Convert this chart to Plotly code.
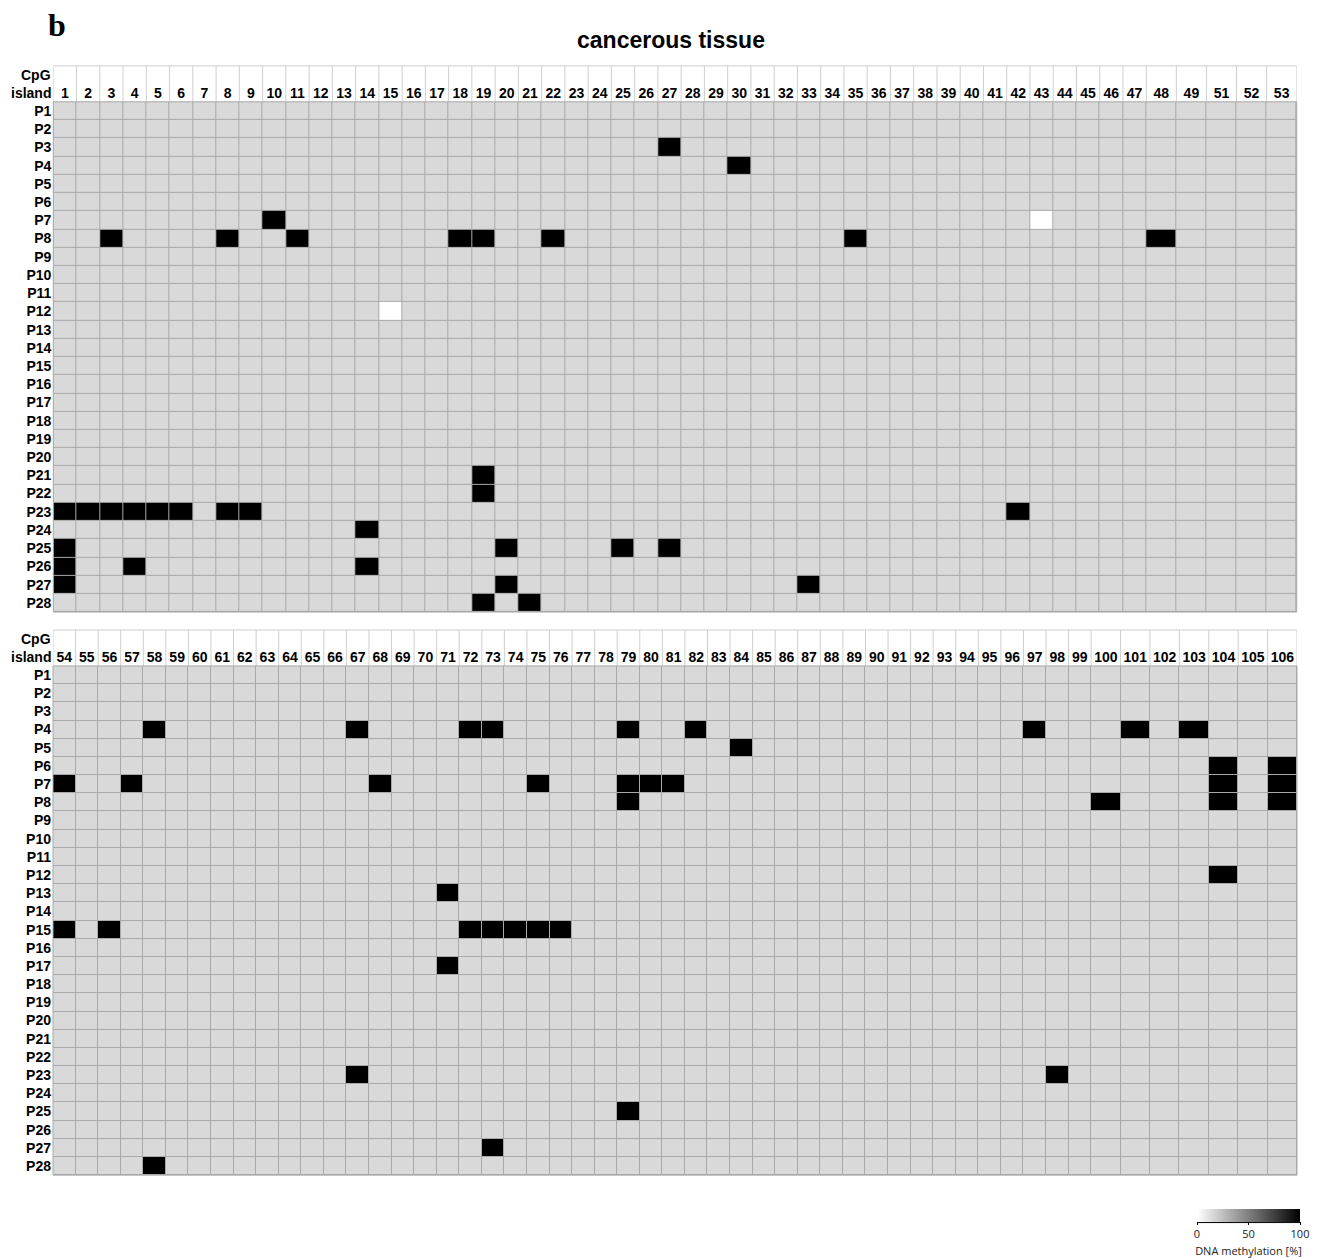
import plotly.graph_objects as go

# ---------------- data ----------------
rows = [f"P{i}" for i in range(1, 29)]
cpg_top = list(range(1, 50)) + [51, 52, 53]
cpg_bottom = list(range(54, 107))

background_level = 15          # light-grey cells
full_methylation = 100         # black cells
no_methylation = 0             # white cells

methylated_top = {
    "P3": [27], "P4": [30], "P7": [10],
    "P8": [3, 8, 11, 18, 19, 22, 35, 48],
    "P21": [19], "P22": [19],
    "P23": [1, 2, 3, 4, 5, 6, 8, 9, 42],
    "P24": [14], "P25": [1, 20, 25, 27], "P26": [1, 4, 14],
    "P27": [1, 20, 33], "P28": [19, 21],
}
unmethylated_top = {"P7": [43], "P12": [15]}

methylated_bottom = {
    "P4": [58, 67, 72, 73, 79, 82, 97, 101, 103],
    "P5": [84], "P6": [104, 106],
    "P7": [54, 57, 68, 75, 79, 80, 81, 104, 106],
    "P8": [79, 100, 104, 106], "P12": [104], "P13": [71],
    "P15": [54, 56, 72, 73, 74, 75, 76], "P17": [71],
    "P23": [67, 98], "P25": [79], "P27": [73], "P28": [58],
}
unmethylated_bottom = {}


def build(cols, meth, unmeth):
    z = [[background_level] * len(cols) for _ in rows]
    for r, cs in meth.items():
        for c in cs:
            z[rows.index(r)][cols.index(c)] = full_methylation
    for r, cs in unmeth.items():
        for c in cs:
            z[rows.index(r)][cols.index(c)] = no_methylation
    return z


z_top = build(cpg_top, methylated_top, unmethylated_top)
z_bottom = build(cpg_bottom, methylated_bottom, unmethylated_bottom)

# ---------------- layout / style ----------------
W, H = 1320, 1258


def fx(p):
    return p / W


def fy(p):
    return 1 - p / H


def edges_for(n, n_narrow, wide):
    e = [0.0]
    for i in range(n):
        e.append(e[-1] + (1.0 if i < n_narrow else wide))
    return e


edges_top = edges_for(len(cpg_top), 47, 1.294)
edges_bottom = edges_for(len(cpg_bottom), 46, 1.303)

panels = [
    dict(z=z_top, cols=cpg_top, edges=edges_top, x0=53.3, x1=1296.7,
         gtop=102, gbot=613, htop=66, xa="x", ya="y"),
    dict(z=z_bottom, cols=cpg_bottom, edges=edges_bottom, x0=53, x1=1297,
         gtop=667, gbot=1177, htop=631, xa="x2", ya="y2"),
]

grid_col = "#a9a9a9"
header_col = "#cfcfcf"
label_font = dict(family="Liberation Sans, Arial", size=14, color="black", weight="bold")

fig = go.Figure()
shapes = []
annotations = []
layout_axes = {}

for k, p in enumerate(panels):
    e = p["edges"]
    centers = [(e[i] + e[i + 1]) / 2 for i in range(len(e) - 1)]
    fig.add_trace(go.Heatmap(
        z=p["z"], x=e, y=rows, coloraxis="coloraxis",
        xgap=1, ygap=1, xaxis=p["xa"], yaxis=p["ya"],
        hovertemplate="CpG %{customdata}<br>%{y}: %{z}%<extra></extra>",
        customdata=[[c for c in p["cols"]] for _ in rows],
    ))
    sfx = "" if k == 0 else "2"
    layout_axes["xaxis" + sfx] = dict(
        domain=[fx(p["x0"]), fx(p["x1"])], range=[0, e[-1]],
        side="top", tickmode="array", tickvals=centers,
        ticktext=[str(c) for c in p["cols"]], showgrid=False, zeroline=False,
        ticks="", showline=False, tickfont=label_font, anchor="y" + sfx,
        automargin=False, fixedrange=True, ticklabelstandoff=0,
    )
    layout_axes["yaxis" + sfx] = dict(
        domain=[fy(p["gbot"]), fy(p["gtop"])], type="category",
        range=[len(rows) - 0.5, -0.5], showgrid=False, zeroline=False,
        ticks="", showline=False, tickfont=label_font, anchor="x" + sfx,
        automargin=False, fixedrange=True, ticklabelstandoff=1,
    )
    # header vertical lines and top border
    for xe in e:
        shapes.append(dict(type="line", xref=p["xa"], yref="paper",
                           x0=xe, x1=xe, y0=fy(p["gtop"]), y1=fy(p["htop"]),
                           line=dict(color=header_col, width=1)))
    shapes.append(dict(type="line", xref=p["xa"], yref="paper",
                       x0=e[0], x1=e[-1], y0=fy(p["htop"]), y1=fy(p["htop"]),
                       line=dict(color=header_col, width=1)))
    shapes.append(dict(type="rect", xref=p["xa"] + " domain", yref=p["ya"] + " domain",
                       x0=0, x1=1, y0=0, y1=1, line=dict(color=grid_col, width=1)))
    # CpG / island labels
    annotations.append(dict(text="CpG", xref="paper", yref="paper", x=fx(52.5),
                            y=fy(p["htop"] + 9), xanchor="right", yanchor="middle",
                            showarrow=False, font=label_font))
    annotations.append(dict(text="island", xref="paper", yref="paper", x=fx(52.5),
                            y=fy(p["gtop"] - 9), xanchor="right", yanchor="middle",
                            showarrow=False, font=label_font))

annotations.append(dict(text="cancerous tissue", xref="paper", yref="paper",
                        x=fx(671), y=fy(40), xanchor="center", yanchor="middle",
                        showarrow=False,
                        font=dict(family="Liberation Sans, Arial", size=23,
                                  color="black", weight="bold")))
annotations.append(dict(text="b", xref="paper", yref="paper",
                        x=fx(46), y=fy(25), xanchor="left", yanchor="middle",
                        showarrow=False,
                        font=dict(family="Liberation Serif, Times New Roman", size=32,
                                  color="black", weight="bold")))

# baseline under the colour bar
shapes.append(dict(type="line", xref="paper", yref="paper",
                   x0=fx(1197), x1=fx(1300), y0=fy(1224.5), y1=fy(1224.5),
                   line=dict(color="black", width=1)))

fig.update_layout(
    width=W, height=H, template="none",
    margin=dict(l=0, r=0, t=0, b=0, pad=0),
    paper_bgcolor="white", plot_bgcolor=grid_col,
    showlegend=False,
    shapes=shapes, annotations=annotations,
    coloraxis=dict(
        cmin=0, cmax=100,
        colorscale=[[0, "#ffffff"], [1, "#000000"]],
        colorbar=dict(
            orientation="h", x=fx(1197), xanchor="left", y=fy(1211), yanchor="top",
            len=103 / W, lenmode="fraction", thickness=13, thicknessmode="pixels",
            outlinewidth=0, xpad=0, ypad=0,
            tickmode="array", tickvals=[0, 50, 100], ticks="outside", ticklen=3,
            tickcolor="black", tickwidth=1,
            tickfont=dict(family="Open Sans, DejaVu Sans", size=11, color="#222"),
            title=dict(text="DNA methylation [%]", side="bottom",
                       font=dict(family="Open Sans, DejaVu Sans", size=11, color="#222")),
        ),
    ),
    **layout_axes,
)

fig.write_html("out.html", config={"displayModeBar": False},
               post_script="document.body.style.margin='0';")
